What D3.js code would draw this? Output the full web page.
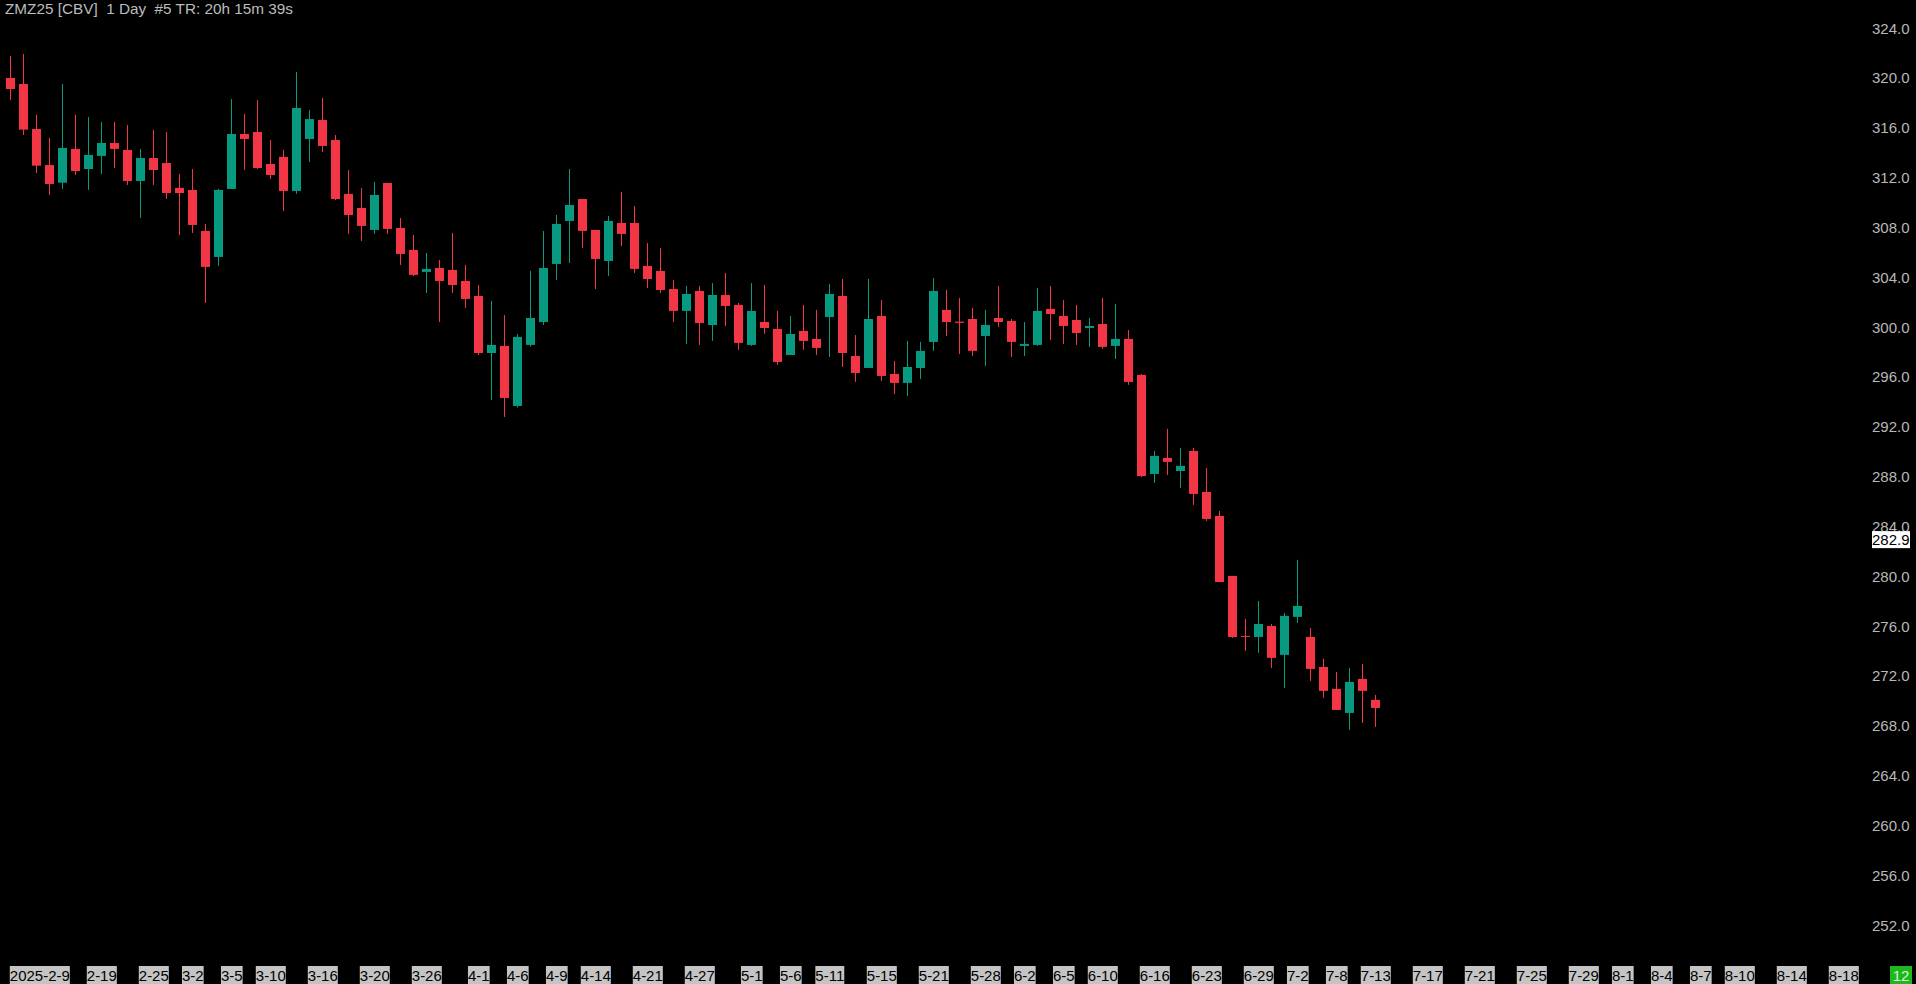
<!DOCTYPE html>
<html>
<head>
<meta charset="utf-8">
<script src="https://cdn.jsdelivr.net/npm/d3@7"></script>
<style>
  html, body { margin: 0; padding: 0; background: #000; overflow: hidden; }
  svg { display: block; }
  text { font-family: "Liberation Sans", Arial, sans-serif; }
</style>
</head>
<body>
<svg id="chart" width="1916" height="984"></svg>
<script>
// ---- data ----
const titleText = "ZMZ25 [CBV]  1 Day  #5 TR: 20h 15m 39s";
const openVals = [319.96,319.47,315.86,312.97,311.55,314.26,312.65,313.7,314.74,314.18,
  311.69,313.53,313.13,311.13,310.97,307.68,305.59,311.05,315.46,315.62,
  313.05,313.62,310.89,315.06,316.58,314.98,310.65,309.52,307.76,311.53,
  307.92,306.15,304.39,304.71,304.55,303.66,302.46,297.88,298.45,293.63,
  298.53,300.37,305.03,308.48,310.24,307.76,305.27,308.32,308.32,304.87,
  304.47,303.02,301.26,302.86,300.13,302.54,301.74,298.53,300.37,299.81,
  297.72,299.65,299.01,300.77,302.46,297.64,296.68,300.85,296.2,295.48,
  296.68,298.77,301.34,300.4,300.61,299.25,300.69,300.45,298.45,298.53,
  301.42,300.85,300.53,299.89,300.21,298.45,299.01,296.12,288.17,289.46,
  288.41,290.02,286.73,284.8,279.99,275.17,275.09,275.97,273.65,276.7,
  275.09,272.68,270.92,268.99,271.72,270.04];
const highVals = [321.72,321.88,317.0,315.14,319.47,317.0,316.82,316.42,316.42,316.18,
  314.26,315.78,315.62,312.25,312.65,308.24,311.05,318.27,317.07,318.19,
  314.98,314.18,320.44,317.39,318.35,315.38,312.57,311.13,311.61,311.53,
  308.72,307.36,305.91,305.35,307.52,304.95,303.34,302.06,300.93,299.41,
  304.47,307.68,308.96,312.65,310.24,307.76,308.88,310.81,309.68,306.71,
  306.31,303.74,303.26,303.26,303.5,304.31,301.9,303.5,303.34,301.26,
  300.85,301.74,301.34,303.42,303.82,299.33,303.82,302.14,297.24,298.85,
  298.77,303.9,302.94,302.3,301.5,301.34,303.26,300.61,300.37,303.1,
  303.26,302.14,301.74,300.69,302.3,301.82,299.73,296.2,290.02,291.79,
  290.26,290.26,288.65,285.2,279.99,276.54,277.98,276.13,277.02,281.27,
  275.82,273.33,272.28,272.6,272.92,270.44];
const lowVals = [318.19,315.38,312.33,310.57,311.05,312.17,310.97,312.25,312.73,311.37,
  308.72,311.37,310.24,307.35,307.51,301.9,304.87,311.05,312.57,312.65,
  311.85,309.28,310.65,313.21,314.02,310.16,307.44,306.87,307.44,307.44,
  304.95,304.06,302.7,300.37,302.7,301.5,297.72,294.11,292.75,293.5,
  298.4,300.13,303.74,305.11,306.31,303.02,304.07,306.47,304.31,303.1,
  302.7,300.37,298.61,298.53,298.85,300.05,298.13,298.45,299.41,296.92,
  297.72,298.13,297.72,297.56,296.76,295.56,296.68,295.64,294.59,294.43,
  295.8,298.05,299.25,297.8,297.64,296.84,299.97,297.56,297.64,298.45,
  298.93,298.61,298.53,298.37,298.21,297.4,295.32,287.93,287.45,288.09,
  287.05,285.69,284.4,279.5,275.01,273.97,273.81,272.6,271.0,276.22,
  271.56,270.2,269.23,267.63,268.19,267.87];
const closeVals = [319.07,315.81,312.92,311.45,314.34,312.49,313.78,314.74,314.26,311.69,
  313.53,312.57,310.72,310.72,308.16,304.79,310.97,315.46,315.06,312.73,
  312.17,310.89,317.55,316.66,314.5,310.24,308.96,308.08,310.57,307.84,
  305.83,304.15,304.63,303.66,303.34,302.22,297.88,298.53,294.27,299.17,
  300.69,304.71,308.24,309.76,307.68,305.43,308.48,307.44,304.63,303.82,
  302.94,301.26,302.62,300.29,302.54,301.66,298.69,301.26,299.89,297.16,
  299.41,298.85,298.29,302.62,297.88,296.28,300.61,296.04,295.48,296.76,
  298.05,302.86,300.37,300.3,298.05,300.13,300.37,298.77,298.61,301.26,
  301.01,300.05,299.49,300.05,298.37,299.01,295.56,288.0,289.62,289.14,
  288.82,286.57,284.56,279.5,275.09,275.09,276.13,273.41,276.78,277.58,
  272.52,270.76,269.23,271.48,270.76,269.39];
// slot index of each dated x-axis label (slots past the last bar are future sessions)
const tickSlots  = [0,7,11,14,17,20,24,28,32,36,39,42,45,49,53,57,60,63,67,71,75,78,81,84,88,92,96,99,102,105,109,113,117,121,124,127,130,133,137,141];
const tickLabels = ["2025-2-9","2-19","2-25","3-2","3-5","3-10","3-16","3-20","3-26","4-1","4-6","4-9","4-14","4-21","4-27","5-1","5-6","5-11","5-15","5-21","5-28","6-2","6-5","6-10","6-16","6-23","6-29","7-2","7-8","7-13","7-17","7-21","7-25","7-29","8-1","8-4","8-7","8-10","8-14","8-18"];
const priceTicks = d3.range(252, 324.001, 4);
const markerPrice = 282.9;
const cornerLabel = "12";

// ---- layout ----
const W = 1916, H = 984;
const svg = d3.select("#chart");
svg.append("rect").attr("width", W).attr("height", H).attr("fill", "#000");

const bars = openVals.map((o, i) => ({ i, o, h: highVals[i], l: lowVals[i], c: closeVals[i] }));
const x = d3.scaleLinear().domain([0, 141]).range([10.3, 10.3 + 13 * 141]);
const y = d3.scaleLinear().domain([252, 324]).range([924.6, 27.6]);
const bodyW = 9;
const up = "#089981", down = "#f23645";

// wicks
svg.append("g").selectAll("line").data(bars).join("line")
  .attr("x1", d => Math.round(x(d.i)) + 0.5).attr("x2", d => Math.round(x(d.i)) + 0.5)
  .attr("y1", d => y(d.h)).attr("y2", d => y(d.l))
  .attr("stroke", d => d.c >= d.o ? up : down).attr("stroke-width", 1);
// bodies
svg.append("g").selectAll("rect").data(bars).join("rect")
  .attr("x", d => Math.round(x(d.i)) + 0.5 - bodyW / 2)
  .attr("width", bodyW)
  .attr("y", d => y(Math.max(d.o, d.c)))
  .attr("height", d => Math.max(1, Math.abs(y(d.o) - y(d.c))))
  .attr("fill", d => d.c >= d.o ? up : down);

// title
svg.append("text").attr("x", 5).attr("y", 14)
  .attr("fill", "#bcbcbc").attr("font-size", 15.3)
  .style("white-space", "pre").attr("xml:space", "preserve")
  .text(titleText);

// y axis (right)
const yAxis = d3.axisRight(y).tickValues(priceTicks).tickSize(0).tickPadding(0)
  .tickFormat(d3.format(".1f"));
const gy = svg.append("g").attr("transform", "translate(1872,0)").call(yAxis);
gy.select(".domain").remove();
gy.selectAll("text").attr("fill", "#b8b8b8").attr("font-size", 15)
  .attr("font-family", "Liberation Sans, Arial, sans-serif").attr("dy", "0.36em");

// current price marker
const mg = svg.append("g").attr("transform", `translate(1872,${y(markerPrice)})`);
mg.append("rect").attr("x", 0).attr("y", -8.5).attr("width", 38).attr("height", 17).attr("fill", "#fff");
mg.append("text").attr("x", 0).attr("dy", "0.36em").attr("font-size", 15).attr("fill", "#000")
  .text(d3.format(".1f")(markerPrice));

// x axis labels
const xAxis = d3.axisBottom(x).tickValues(tickSlots).tickSize(0).tickPadding(0)
  .tickFormat((d, k) => tickLabels[k]);
const gx = svg.append("g").attr("transform", "translate(0,966)").call(xAxis);
gx.select(".domain").remove();
gx.selectAll(".tick").each(function () {
  const t = d3.select(this);
  const txt = t.select("text").attr("font-size", 15).attr("fill", "#000")
    .attr("font-family", "Liberation Sans, Arial, sans-serif")
    .attr("y", 15).attr("dy", null);
  const bb = txt.node().getBBox();
  const tr = t.attr("transform");
  const tx = +/translate\(([-\d.]+)/.exec(tr)[1];
  let shift = 0;
  if (tx + bb.x < x(0) - 0.5) shift = (x(0) - 0.5) - (tx + bb.x);
  txt.attr("x", shift);
  t.insert("rect", "text").attr("x", bb.x + shift).attr("y", 0)
    .attr("width", bb.width).attr("height", 18).attr("fill", "#c4c4c4");
});

// bottom-right corner box
const cg = svg.append("g").attr("transform", "translate(1890,966)");
cg.append("rect").attr("width", 22).attr("height", 18).attr("fill", "#1eb81e");
cg.append("text").attr("x", 11).attr("y", 15).attr("text-anchor", "middle")
  .attr("font-size", 15).attr("fill", "#d8f0d8").text(cornerLabel);
</script>
</body>
</html>
